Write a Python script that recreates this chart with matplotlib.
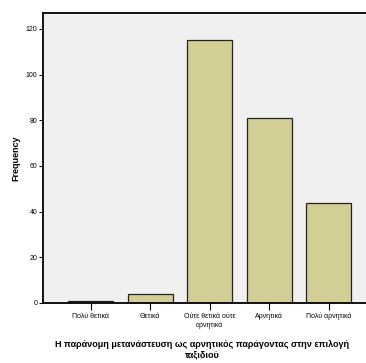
import matplotlib
matplotlib.use('Agg')
import matplotlib.pyplot as plt

categories = ['Πολύ θετικά', 'Θετικά', 'Ούτε θετικά ούτε\nαρνητικά', 'Αρνητικά', 'Πολύ αρνητικά']
frequency = [1, 4, 115, 81, 44]
yticks = [0, 20, 40, 60, 80, 100, 120]

plt.rcParams['font.family'] = ['Liberation Sans', 'DejaVu Sans']

fig = plt.figure(figsize=(3.66, 3.63), dpi=100)
ax = fig.add_axes([0.1175, 0.1653, 0.8825, 0.7989])
ax.set_facecolor('#f0f0f0')

x = list(range(len(categories)))
ax.bar(x, frequency, width=0.756, color='#d2ce96', edgecolor='#222222', linewidth=0.9, zorder=2)

ax.set_xlim(-0.8, 4.63)
ax.set_ylim(0, 127)
ax.set_yticks(yticks)
ax.set_xticks(x)
ax.set_xticklabels(categories, fontsize=5, linespacing=1.3)
ax.tick_params(axis='y', labelsize=5, length=3, width=0.8, pad=1)
ax.tick_params(axis='x', length=5, width=0.8, pad=2)

for s in ['left', 'bottom', 'top']:
    ax.spines[s].set_linewidth(1.3)
    ax.spines[s].set_color('black')
ax.spines['right'].set_visible(False)

ax.set_ylabel('Frequency', fontsize=6.5, fontweight='bold', labelpad=4)

# x title centred under the visible part of the chart
fig.text(202 / 366, 1 - 340 / 363,
         'Η παράνομη μετανάστευση ως αρνητικός παράγοντας στην επιλογή\nταξιδιού',
         fontsize=6.5, fontweight='bold', ha='center', va='top', linespacing=1.15)

fig.savefig('out.png', dpi=100, facecolor='white')
